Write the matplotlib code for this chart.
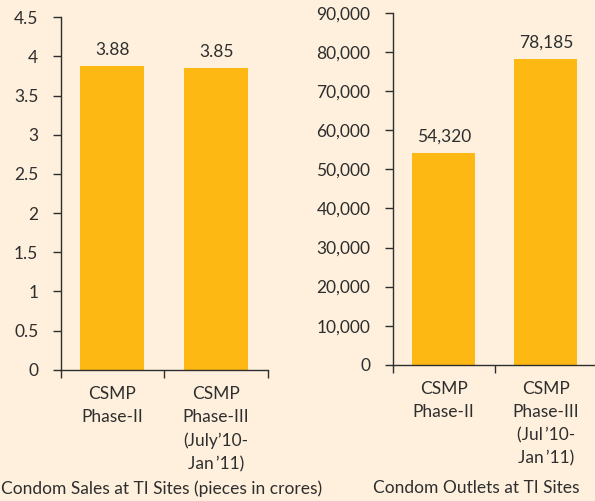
import matplotlib.pyplot as plt
from matplotlib.ticker import FuncFormatter

plt.rcParams['font.family'] = ['Lato', 'DejaVu Sans']

BG = '#FEF0DC'
BAR = '#FDB813'
INK = '#2E2E2E'

sales_labels = ['CSMP\nPhase-II', "CSMP\nPhase-III\n(July\u201910-\nJan\u2009\u201911)"]
sales_values = [3.88, 3.85]
sales_ticks = [0, 0.5, 1, 1.5, 2, 2.5, 3, 3.5, 4, 4.5]

outlet_labels = ['CSMP\nPhase-II', "CSMP\nPhase-III\n(Jul\u2009\u201910-\nJan\u2009\u201911)"]
outlet_values = [54320, 78185]
outlet_ticks = [0, 10000, 20000, 30000, 40000, 50000, 60000, 70000, 80000, 90000]

fig = plt.figure(figsize=(5.95, 5.01), dpi=100, facecolor=BG)


def draw(ax, labels, values, ticks, ymax, fmt_tick, fmt_val, title, title_x):
    ax.set_facecolor(BG)
    x = list(range(len(values)))
    ax.bar(x, values, width=0.615, color=BAR)
    ax.set_xlim(-0.5, len(values) - 0.5)
    ax.set_ylim(0, ymax)
    ax.set_yticks(ticks)
    ax.yaxis.set_major_formatter(FuncFormatter(fmt_tick))
    ax.set_xticks([i - 0.5 for i in range(len(values) + 1)])
    ax.set_xticklabels([])
    ax.set_xticks(x, minor=True)
    ax.set_xticklabels(labels, minor=True, linespacing=1.54, va='top')
    ax.tick_params(axis='x', which='minor', length=0, pad=12, labelsize=12.5,
                   labelcolor=INK)
    ax.tick_params(axis='both', which='major', length=6, width=1, color=INK,
                   labelsize=12.5, labelcolor=INK, pad=10)
    for s in ['top', 'right']:
        ax.spines[s].set_visible(False)
    for s in ['left', 'bottom']:
        ax.spines[s].set_color(INK)
        ax.spines[s].set_linewidth(1)
    for xi, v in zip(x, values):
        ax.annotate(fmt_val(v), (xi, v), xytext=(0, 6), textcoords='offset points',
                    ha='center', va='bottom', fontsize=12.5, color=INK)
    fig.text(title_x, 0.025, title, ha='center', va='center', fontsize=12.5, color=INK)


ax1 = fig.add_axes([0.1017, 0.2621, 0.3487, 0.7034])
draw(ax1, sales_labels, sales_values, sales_ticks, 4.5,
     lambda v, p: f'{v:g}', lambda v: f'{v:.2f}',
     'Condom Sales at TI Sites (pieces in crores)', 0.272)

ax2 = fig.add_axes([0.6597, 0.2721, 0.3437, 0.7014])
draw(ax2, outlet_labels, outlet_values, outlet_ticks, 90000,
     lambda v, p: f'{v:,.0f}', lambda v: f'{v:,.0f}',
     'Condom Outlets at TI Sites', 0.80)

fig.savefig('out.png', dpi=100, facecolor=BG)
